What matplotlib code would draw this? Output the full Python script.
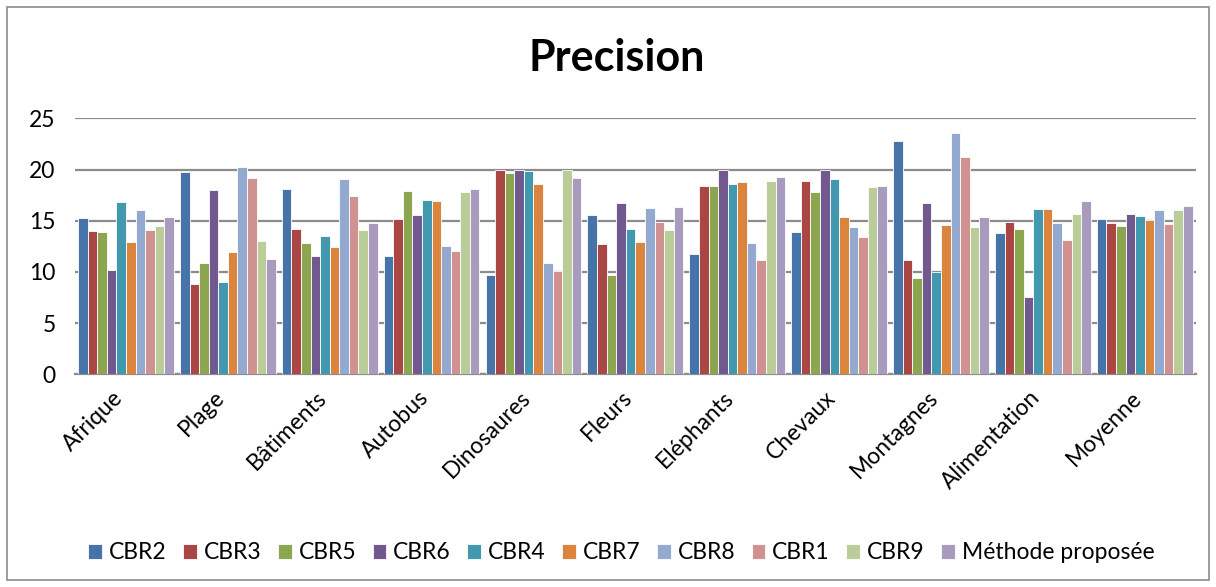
import matplotlib
matplotlib.use("Agg")
import matplotlib.pyplot as plt
import matplotlib.transforms as mtransforms
import numpy as np
from matplotlib.patches import Rectangle

plt.rcParams['font.family'] = ['Lato', 'DejaVu Sans']

categories = ["Afrique", "Plage", "Bâtiments", "Autobus", "Dinosaures", "Fleurs",
              "Eléphants", "Chevaux", "Montagnes", "Alimentation", "Moyenne"]

series_names = ["CBR2", "CBR3", "CBR5", "CBR6", "CBR4", "CBR7", "CBR8", "CBR1",
                "CBR9", "Méthode proposée"]

cbr2 = [15.23, 19.76, 18.13, 11.59, 9.73, 15.56, 11.75, 13.87, 22.75, 13.77, 15.17]
cbr3 = [14.00, 8.82, 14.16, 15.20, 19.95, 12.70, 18.42, 18.88, 11.17, 14.88, 14.81]
cbr5 = [13.87, 10.84, 12.79, 17.90, 19.69, 9.70, 18.36, 17.81, 9.44, 14.16, 14.45]
cbr6 = [10.16, 17.97, 11.59, 15.56, 19.95, 16.73, 19.95, 19.95, 16.76, 7.55, 15.63]
cbr4 = [16.86, 9.02, 13.51, 17.02, 19.82, 14.19, 18.62, 19.11, 9.96, 16.11, 15.43]
cbr7 = [12.92, 11.95, 12.40, 16.96, 18.59, 12.92, 18.75, 15.36, 14.55, 16.11, 15.07]
cbr8 = [16.08, 20.25, 19.08, 12.57, 10.87, 16.24, 12.86, 14.39, 23.57, 14.75, 16.08]
cbr1 = [14.06, 19.14, 17.38, 12.08, 10.09, 14.88, 11.13, 13.38, 21.26, 13.12, 14.65]
cbr9 = [14.45, 12.99, 14.10, 17.84, 19.95, 14.10, 18.88, 18.29, 14.39, 15.69, 16.08]
methode = [15.33, 11.26, 14.81, 18.07, 19.14, 16.37, 19.30, 18.42, 15.33, 16.89, 16.47]

series_values = [cbr2, cbr3, cbr5, cbr6, cbr4, cbr7, cbr8, cbr1, cbr9, methode]

colors = ["#4674A8", "#AA4644", "#8BA64E", "#71588F", "#4198AF", "#DB843D",
          "#93A9CF", "#D09291", "#BACC98", "#A99BBD"]

yticks = [0, 5, 10, 15, 20, 25]

fig = plt.figure(figsize=(12.16, 5.87), dpi=100)
ax = fig.add_axes([0.0617, 0.3623, 0.9216, 0.4361])

x = np.arange(len(categories))
n = len(series_names)
bw = 0.094
for i, (name, vals, col) in enumerate(zip(series_names, series_values, colors)):
    offs = (i - (n - 1) / 2) * bw
    ax.bar(x + offs, vals, width=bw, color=col, edgecolor="white",
           linewidth=0.6, label=name, zorder=3)

ax.set_xlim(-0.5, len(categories) - 0.5)
ax.set_ylim(0, 25)
ax.set_yticks(yticks)
ax.set_yticklabels([str(t) for t in yticks], fontsize=16.5)
ax.yaxis.grid(True, color="#8C8C8C", linewidth=1.6, zorder=0)
ax.set_axisbelow(True)
for s in ["top", "right", "left"]:
    ax.spines[s].set_visible(False)
ax.spines["bottom"].set_color("#8C8C8C")
ax.spines["bottom"].set_linewidth(1.6)
ax.tick_params(axis="y", length=0, pad=14)
ax.tick_params(axis="x", length=0, pad=9)

ax.set_xticks(x)
ax.set_xticklabels(categories, rotation=45, ha="right", rotation_mode="anchor",
                   fontsize=16.5)
shift = mtransforms.ScaledTranslation(-14 / 100, 0, fig.dpi_scale_trans)
for lbl in ax.get_xticklabels():
    lbl.set_transform(lbl.get_transform() + shift)

fig.text(0.507, 0.902, "Precision", ha="center", va="center",
         fontsize=31, fontweight="bold")

handles, labels = ax.get_legend_handles_labels()
fig.legend(handles, labels, loc="center", bbox_to_anchor=(0.511, 0.058),
           ncol=10, frameon=False, fontsize=16.5, handlelength=0.6,
           handleheight=0.6, handletextpad=0.3, columnspacing=0.72)

fig.patches.append(Rectangle((0.006, 0.012), 0.988, 0.976, transform=fig.transFigure,
                             fill=False, edgecolor="#8C8C8C", linewidth=1.2))

fig.savefig("out.png", dpi=100)
